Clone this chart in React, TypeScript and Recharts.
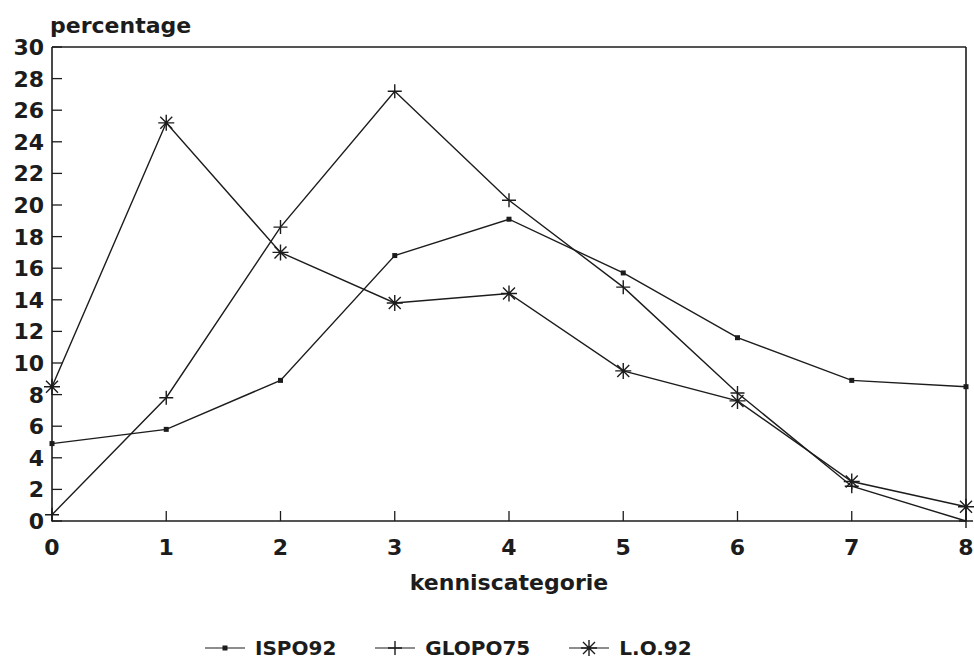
import React from "react";
import { LineChart, Line, XAxis, YAxis, ReferenceLine, Legend, Label } from "recharts";

const categories = [0, 1, 2, 3, 4, 5, 6, 7, 8];
const ispo92 = [4.9, 5.8, 8.9, 16.8, 19.1, 15.7, 11.6, 8.9, 8.5];
const glopo75 = [0.4, 7.8, 18.6, 27.2, 20.3, 14.8, 8.1, 2.2, 0];
const lo92 = [8.5, 25.2, 17.0, 13.8, 14.4, 9.5, 7.6, 2.5, 0.9];
const yTicks = [0, 2, 4, 6, 8, 10, 12, 14, 16, 18, 20, 22, 24, 26, 28, 30];
const seriesOrder = ["ispo92", "glopo75", "lo92"];

const data = categories.map((cat, i) => ({
  cat,
  ispo92: ispo92[i],
  glopo75: glopo75[i],
  lo92: lo92[i],
}));

const INK = "#1c1c1c";
const FONT = "'DejaVu Sans', sans-serif";

const textStyle = { fontFamily: FONT, fontWeight: 700, fontSize: 22, fill: INK };

function squareMark(cx: number, cy: number, key?: string) {
  return <rect key={key} x={cx - 2.5} y={cy - 2.5} width={5} height={5} fill={INK} />;
}

function plusMark(cx: number, cy: number, key?: string) {
  return (
    <path key={key} d={`M${cx - 7},${cy}H${cx + 7}M${cx},${cy - 7}V${cy + 7}`} stroke={INK} strokeWidth={1.4} fill="none" />
  );
}

function starMark(cx: number, cy: number, key?: string) {
  const d = 6;
  return (
    <path
      key={key}
      d={`M${cx - 8},${cy}H${cx + 8}M${cx},${cy - 8}V${cy + 8}M${cx - d},${cy - d}L${cx + d},${cy + d}M${cx - d},${cy + d}L${cx + d},${cy - d}`}
      stroke={INK}
      strokeWidth={1.4}
      fill="none"
    />
  );
}

const markers: Record<string, (cx: number, cy: number, key?: string) => React.ReactElement> = {
  ispo92: squareMark,
  glopo75: plusMark,
  lo92: starMark,
};

const makeDot = (kind: string) => (props: any) => {
  const { cx, cy, index } = props;
  if (cx == null || cy == null) return <g key={`${kind}-${index}`} />;
  return markers[kind](cx, cy, `${kind}-${index}`);
};

const YTick = (props: any) => {
  const { x, y, payload } = props;
  return (
    <g>
      <line x1={x} x2={x + 10} y1={y} y2={y} stroke={INK} strokeWidth={1.3} />
      <text x={x - 8} y={y + 8} textAnchor="end" style={textStyle}>
        {payload.value}
      </text>
    </g>
  );
};

const XTick = (props: any) => {
  const { x, y, payload } = props;
  return (
    <g>
      <line x1={x} x2={x} y1={y} y2={y - 10} stroke={INK} strokeWidth={1.3} />
      <text x={x} y={y + 34} textAnchor="middle" style={textStyle}>
        {payload.value}
      </text>
    </g>
  );
};

const LegendContent = (props: any) => {
  const items = [...(props.payload || [])].sort(
    (a: any, b: any) => seriesOrder.indexOf(a.dataKey) - seriesOrder.indexOf(b.dataKey)
  );
  return (
    <div style={{ display: "flex", alignItems: "center", paddingLeft: 205, gap: 39 }}>
      {items.map((item: any) => (
        <div key={item.dataKey} style={{ display: "flex", alignItems: "center", gap: 10 }}>
          <svg width={40} height={20}>
            <line x1={0} x2={40} y1={10} y2={10} stroke={INK} strokeWidth={1.2} />
            {markers[item.dataKey](20, 10)}
          </svg>
          <span style={{ fontFamily: FONT, fontWeight: 700, fontSize: 20, color: INK }}>{item.value}</span>
        </div>
      ))}
    </div>
  );
};

export default function App() {
  return (
    <div style={{ position: "absolute", left: 0, top: 0, width: 974, height: 664, background: "#fff" }}>
      <LineChart width={974} height={664} data={data} margin={{ top: 47, right: 8, left: 0, bottom: 63 }}>
        <XAxis
          dataKey="cat"
          type="number"
          domain={[0, 8]}
          ticks={categories}
          height={80}
          tickSize={0}
          tickMargin={0}
          tick={<XTick />}
          axisLine={{ stroke: INK, strokeWidth: 1.6 }}
          tickLine={false}
        >
          <Label
            content={(p: any) => {
              const vb = p.viewBox;
              return (
                <text x={vb.x + vb.width / 2} y={vb.y + 69} textAnchor="middle" style={textStyle}>
                  kenniscategorie
                </text>
              );
            }}
          />
        </XAxis>
        <YAxis
          type="number"
          domain={[0, 30]}
          ticks={yTicks}
          width={52}
          tickSize={0}
          tickMargin={0}
          tick={<YTick />}
          axisLine={{ stroke: INK, strokeWidth: 1.6 }}
          tickLine={false}
          interval={0}
        >
          <Label
            content={(p: any) => {
              const vb = p.viewBox;
              return (
                <text x={vb.x + vb.width - 2} y={vb.y - 14} textAnchor="start" style={textStyle}>
                  percentage
                </text>
              );
            }}
          />
        </YAxis>
        <ReferenceLine y={30} stroke={INK} strokeWidth={1.6} />
        <ReferenceLine x={8} stroke={INK} strokeWidth={1.6} />
        <Line
          dataKey="ispo92"
          name="ISPO92"
          stroke={INK}
          strokeWidth={1.4}
          dot={makeDot("ispo92")}
          isAnimationActive={false}
        />
        <Line
          dataKey="glopo75"
          name="GLOPO75"
          stroke={INK}
          strokeWidth={1.4}
          dot={makeDot("glopo75")}
          isAnimationActive={false}
        />
        <Line
          dataKey="lo92"
          name="L.O.92"
          stroke={INK}
          strokeWidth={1.4}
          dot={makeDot("lo92")}
          isAnimationActive={false}
        />
        <Legend
          layout="horizontal"
          verticalAlign="middle"
          align="center"
          content={<LegendContent />}
          wrapperStyle={{ top: 636, left: 0, width: 974, height: 28 }}
        />
      </LineChart>
    </div>
  );
}
